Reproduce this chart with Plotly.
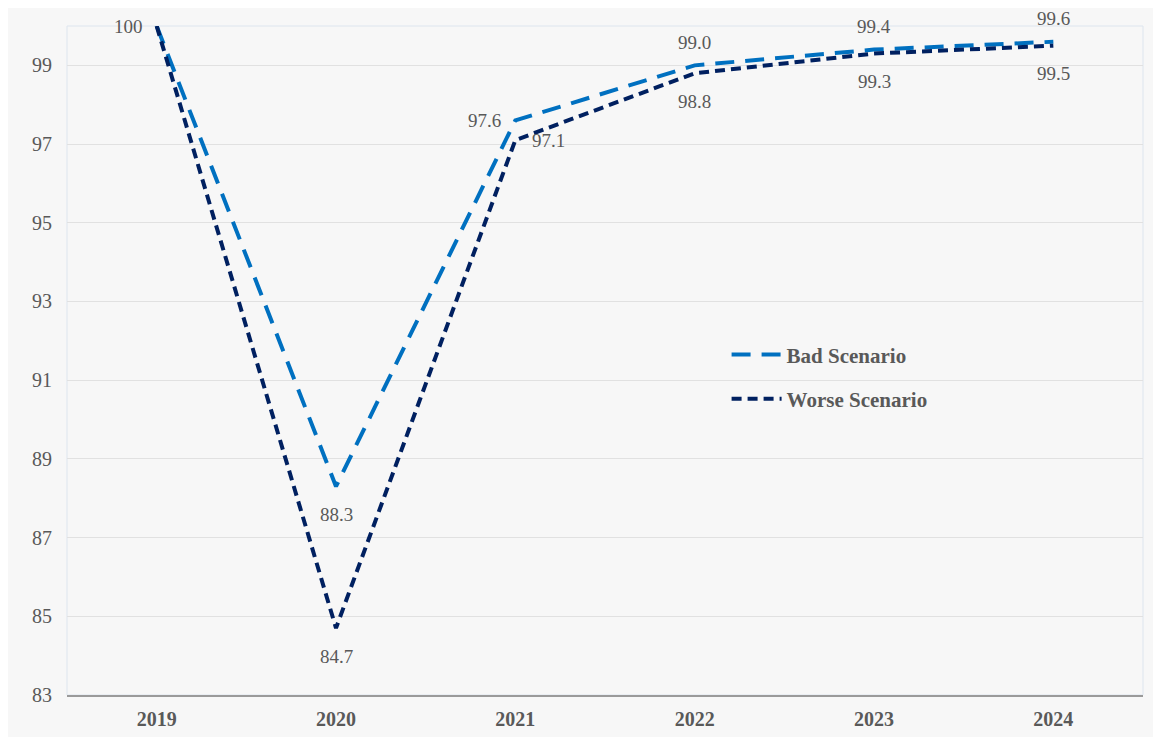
import plotly.graph_objects as go

years = ["2019", "2020", "2021", "2022", "2023", "2024"]
bad = [100, 88.3, 97.6, 99.0, 99.4, 99.6]
worse = [100, 84.7, 97.1, 98.8, 99.3, 99.5]
bad_labels = ["100", "88.3", "97.6", "99.0", "99.4", "99.6"]
worse_labels = ["", "84.7", "97.1", "98.8", "99.3", "99.5"]
bad_pos = ["left", "below", "left", "above", "above", "above"]
worse_pos = ["left", "below", "right", "below", "below", "below"]
y_ticks = [83, 85, 87, 89, 91, 93, 95, 97, 99]

SERIF = "Liberation Serif, Times New Roman, serif"
GREY = "#595959"

fig = go.Figure()
fig.add_trace(go.Scatter(
    x=years, y=bad, name="Bad Scenario", mode="lines",
    line=dict(color="#0070C0", width=4, dash="19px,11px"),
    legendgroup="a", cliponaxis=False,
))
fig.add_trace(go.Scatter(
    x=years, y=worse, name="Worse Scenario", mode="lines",
    line=dict(color="#002060", width=4, dash="10px,6px"),
    legendgroup="b", cliponaxis=False,
))

shift = {"above": (0, 23, "center"), "below": (0, -28, "center"),
         "left": (-12, 0, "right"), "right": (15, 0, "left")}
for ys, labels, positions in [(bad, bad_labels, bad_pos),
                              (worse, worse_labels, worse_pos)]:
    for i, (yv, lab, pos) in enumerate(zip(ys, labels, positions)):
        if not lab:
            continue
        dx, dy, xa = shift[pos]
        fig.add_annotation(x=i, y=yv, xref="x", yref="y", text=lab, showarrow=False,
                           xanchor=xa, yanchor="middle", xshift=dx, yshift=dy,
                           font=dict(family=SERIF, size=19, color=GREY))

fig.add_shape(type="rect", xref="paper", yref="paper",
              x0=0, x1=1, y0=0, y1=1,
              fillcolor="rgba(0,0,0,0)", line=dict(color="#dde5ee", width=1), layer="below")

fig.update_layout(
    width=1153, height=729,
    margin=dict(l=59, r=18, t=18, b=42),
    paper_bgcolor="#f7f7f7",
    plot_bgcolor="#f7f7f7",
    font=dict(family=SERIF, color=GREY),
    legend=dict(
        x=0.613, y=0.539, xanchor="left", yanchor="top",
        bgcolor="rgba(0,0,0,0)",
        font=dict(family=SERIF, size=21, color=GREY, weight="bold"),
        traceorder="grouped", tracegroupgap=14,
        itemwidth=50,
    ),
    xaxis=dict(
        type="category", range=[-0.5, 5.5], automargin=False,
        showgrid=False, showline=True, linecolor="#9a9a9a", linewidth=2,
        ticks="", tickfont=dict(family=SERIF, size=20, color=GREY, weight="bold"),
        ticklabelstandoff=5, zeroline=False,
    ),
    yaxis=dict(
        range=[83, 100], tickvals=y_ticks, automargin=False,
        showgrid=True, gridcolor="#e1e1e1", gridwidth=1,
        showline=False, zeroline=False, ticks="",
        tickfont=dict(family=SERIF, size=20, color=GREY),
        ticklabelstandoff=14,
    ),
)

fig.write_html("out.html")
